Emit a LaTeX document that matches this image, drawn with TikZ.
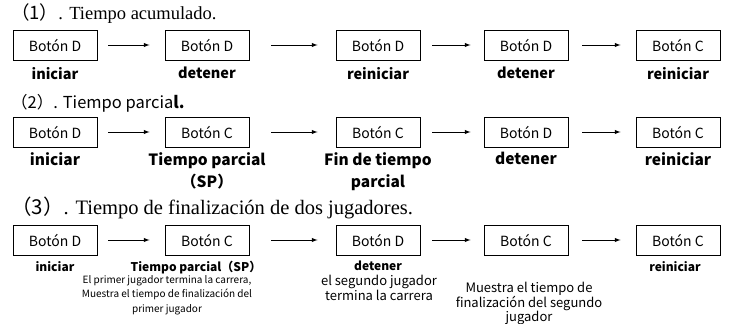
\documentclass[tikz,border=0pt]{standalone}
\usepackage{fontspec}
\setmainfont{Liberation Serif}
\newfontfamily\cjk{Noto Sans CJK SC}
\begin{document}
\begin{tikzpicture}[x=1pt, y=-1pt, >=latex]
\useasboundingbox (0,0) rectangle (742,324);
\tikzstyle{every node} = [inner sep=0pt]
\tikzstyle{boton} = [draw, line width=.9pt, minimum width=84pt, minimum height=30pt, font=\cjk\fontsize{14}{16}\selectfont]
\tikzstyle{accion} = [font=\cjk\bfseries\fontsize{14.5}{21}\selectfont, align=center, anchor=north]
\tikzstyle{accionp} = [font=\cjk\bfseries\fontsize{12}{14}\selectfont, anchor=north]
\tikzstyle{nota} = [font=\cjk\fontsize{10}{14.5}\selectfont, align=center, anchor=north]
\tikzstyle{titulo} = [anchor=west, font=\fontsize{20.5}{23}\selectfont]
% (1) tiempo acumulado
\node[titulo, font=\fontsize{18.5}{22}\selectfont] (t1) at (11,14) {{\cjk （1）}. Tiempo acumulado.};
\node[boton] (a1) at (55,45) {Botón D};
\node[boton] (a2) at (207,45) {Botón D};
\node[boton] (a3) at (378,45) {Botón D};
\node[boton] (a4) at (526,45) {Botón D};
\node[boton] (a5) at (678,45) {Botón C};
\node[accion] (la1) at (55,67) {iniciar};
\node[accion] (la2) at (207,67) {detener};
\node[accion] (la3) at (378,67) {reiniciar};
\node[accion] (la4) at (526,67) {detener};
\node[accion] (la5) at (678,67) {reiniciar};
% (2) tiempo parcial
\node[titulo, font=\cjk\fontsize{16.5}{20}\selectfont] (t2) at (11,103) {（2）. Tiempo parcia\textbf{l.}};
\node[boton] (b1) at (55,132) {Botón D};
\node[boton] (b2) at (207,132) {Botón C};
\node[boton] (b3) at (378,132) {Botón C};
\node[boton] (b4) at (526,132) {Botón D};
\node[boton] (b5) at (678,132) {Botón C};
\node[accion, font=\cjk\bfseries\fontsize{15.5}{22}\selectfont] (lb1) at (55,152) {iniciar};
\node[accion, font=\cjk\bfseries\fontsize{15.5}{22}\selectfont] (lb2) at (207,152) {Tiempo parcial\\（SP）};
\node[accion, font=\cjk\bfseries\fontsize{15.5}{22}\selectfont] (lb3) at (378,152) {Fin de tiempo\\parcial};
\node[accion, font=\cjk\bfseries\fontsize{15.5}{22}\selectfont] (lb4) at (526,152) {detener};
\node[accion, font=\cjk\bfseries\fontsize{15.5}{22}\selectfont] (lb5) at (678,152) {reiniciar};
% (3) dos jugadores
\node[titulo] (t3) at (11,208) {{\cjk （3）}. Tiempo de finalización de dos jugadores.};
\node[boton] (c1) at (55,240) {Botón D};
\node[boton] (c2) at (207,240) {Botón C};
\node[boton] (c3) at (378,240) {Botón D};
\node[boton] (c4) at (526,240) {Botón C};
\node[boton] (c5) at (678,240) {Botón C};
\node[accionp] (lc1) at (55,261) {iniciar};
\node[accionp] (lc2) at (196,261) {Tiempo parcial（SP）};
\node[nota] (nc2) at (167,275) {El primer jugador termina la carrera,\\Muestra el tiempo de finalización del\\primer jugador};
\node[accionp] (lc3) at (378,261) {detener};
\node[nota, font=\cjk\fontsize{13}{14.5}\selectfont] (nc3) at (379,275) {el segundo jugador\\termina la carrera};
\node[nota, font=\cjk\fontsize{13}{14.5}\selectfont] (nc4) at (529,282) {Muestra el tiempo de\\finalización del segundo\\jugador};
\node[accionp] (lc5) at (675,261) {reiniciar};
% flechas
\foreach \r in {a,b,c}
  \foreach \i/\j/\s/\e in {1/2/11/15, 2/3/22/18, 3/4/12/13, 4/5/14/15}
    \draw[->, line width=1pt, shorten <=\s pt, shorten >=\e pt] (\r\i) -- (\r\j);
\end{tikzpicture}
\end{document}
